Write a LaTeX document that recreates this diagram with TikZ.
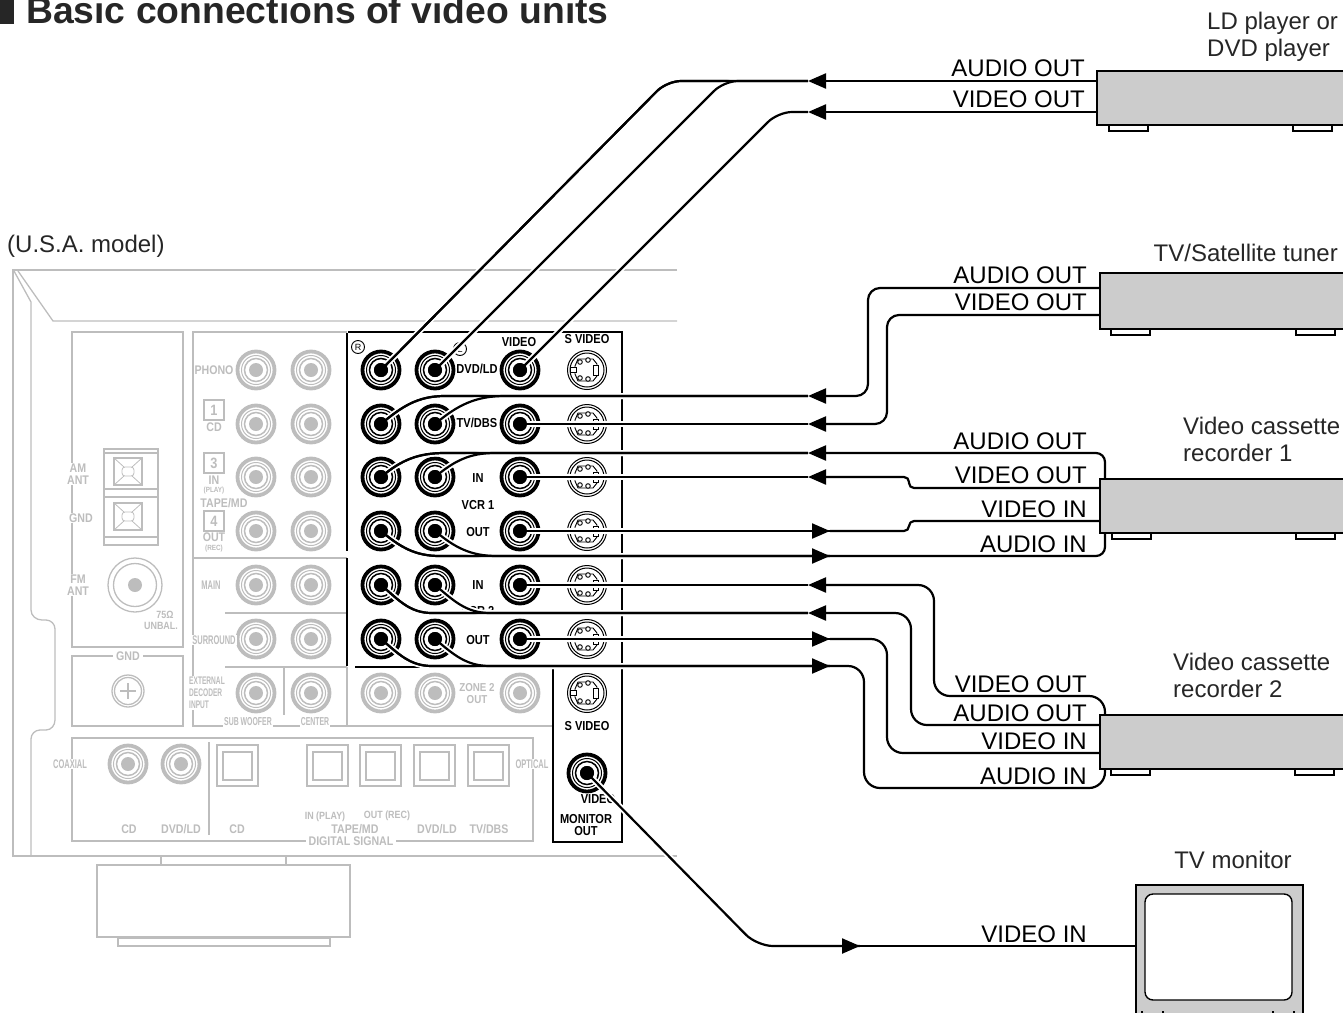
\documentclass[tikz,border=0pt]{standalone}
\usepackage{fontspec}
\setmainfont{Liberation Sans}
\newfontfamily\panelfont[FakeStretch=0.85]{Liberation Sans}
\newfontfamily\narrowfont[FakeStretch=0.6]{Liberation Sans}
\usetikzlibrary{arrows.meta}
\definecolor{panelgray}{HTML}{BDBDBD}
\definecolor{devgray}{HTML}{CCCCCC}
\tikzset{
  wire/.style={line width=2.2pt,line join=round},
  cable/.style={wire,preaction={draw=white,line width=6pt,-}},
  tipped/.style={cable,-{Triangle[length=18pt,width=15pt]}},
  device/.style={draw,fill=devgray,line width=1.6pt,anchor=north west,inner sep=0pt,minimum width=270pt},
  foot/.style={draw,fill=white,line width=1.4pt},
  panel/.style={draw=panelgray,line width=1.3pt},
  heavy/.style={draw=black,line width=2.5pt},
  greytext/.style={text=panelgray,font=\panelfont\bfseries\fontsize{12.5}{12.5}\selectfont,inner sep=1pt,fill=white},
  thintext/.style={text=panelgray,font=\narrowfont\bfseries\fontsize{12.5}{12.5}\selectfont,inner sep=1pt,fill=white},
  blacktext/.style={text=black,font=\panelfont\bfseries\fontsize{13}{11.5}\selectfont,inner sep=0pt,align=center},
  portlabel/.style={anchor=base east,inner sep=0pt,font=\fontsize{24}{27}\selectfont},
  unitlabel/.style={inner sep=0pt,align=left,text=black!85,font=\fontsize{24}{27}\selectfont},
  numbox/.style={draw=panelgray,line width=1.2pt,text=panelgray,font=\panelfont\bfseries\fontsize{15}{15}\selectfont,minimum size=20pt,inner sep=0pt},
  jack/.pic={
    \draw[#1,line width=3.8pt] (0,0) circle (18.5pt);
    \draw[#1,line width=1pt] (0,0) circle (14.5pt);
    \draw[#1,line width=1.5pt] (0,0) circle (11.5pt);
    \fill[#1] (0,0) circle (7pt);
  },
  svideo/.pic={
    \draw[#1,line width=1pt] (0,0) circle (19.5pt);
    \draw[#1,line width=1pt] (0,0) circle (17pt);
    \draw[#1,line width=.9pt] (-9,-11) -- (6,-11) -- (10,-6) -- (10,6) -- (6,11) -- (-9,11) -- (-12,4) -- (-12,-4) -- cycle;
    \foreach \px/\py in {-7/-8,1/-10,-7/8,1/9}
      \draw[#1,fill=white,line width=.9pt] (\px,\py) circle (2.3pt);
    \draw[#1,fill=white,line width=.9pt] (-17,-2.5) rectangle (-11,2.5);
    \draw[#1,fill=white,line width=.9pt] (6,-5) rectangle (11,5);
  }
}
\begin{document}
\begin{tikzpicture}[x=1pt,y=-1pt]
\useasboundingbox (0,0) rectangle (1343,1012);
\draw[panel,line width=2.5pt] (677,270) -- (13,270) -- (13,856) -- (677,856);
\draw[panel] (14,271) -- (31,302) -- (31,610) to[out=-90,in=180] (42,620) -- (46,620) to[out=0,in=90] (55,629) -- (55,720) to[out=-90,in=0] (46,730) -- (40,730) to[out=180,in=90] (31,739) -- (31,856);
\draw[panel] (18,271) -- (53,321) -- (677,321);
\draw[panel] (72,332) rectangle (183,647);
\draw[panel] (72,656) rectangle (183,726);
\draw[panel] (347,332) -- (193,332) -- (193,726) -- (553,726);
\draw[panel] (193,558) -- (347,558);
\draw[panel] (225,613) -- (347,613);
\draw[panel] (225,667) -- (347,667);
\draw[panel] (284,667) -- (284,715);
\draw[panel] (347,667) -- (347,726);
\draw[panel] (72,738) rectangle (533,841);
\draw[panel] (209,742) -- (209,835);
\draw[panel,line width=1.8pt] (161,857) -- (161,865);
\draw[panel,line width=1.8pt] (286,857) -- (286,865);
\draw[panel,line width=2pt] (97,865) rectangle (350,937);
\draw[panel,line width=1.8pt] (118,938) rectangle (330,946);

\draw[panel,line width=1.6pt] (104,449) rectangle (158,545);
\foreach \ly in {453,489,497,537}
  \draw[panel] (104,\ly) -- (158,\ly);
\foreach \sy in {458,503} {
  \draw[panel] (114,\sy) rectangle (142,\sy+27);
  \draw[panel,line width=.8pt] (114,\sy) -- (124,\sy+9) (142,\sy) -- (132,\sy+9) (114,\sy+27) -- (124,\sy+18) (142,\sy+27) -- (132,\sy+18);
  \draw[panel,line width=.8pt,rounded corners=3pt] (122,\sy+9) rectangle (134,\sy+18);
}
\draw[panel] (135,585) circle (27pt);
\draw[panel] (135,585) circle (21.5pt);
\fill[panelgray] (135,585) circle (7pt);
\draw[panel] (128,691) circle (16pt);
\draw[panel] (128,691) circle (13.5pt);
\draw[panel] (120,691) -- (136,691) (128,683) -- (128,699);

\foreach \jy in {370,424,477,531,585,639,693} {
  \pic at (256,\jy) {jack=panelgray};
  \pic at (311,\jy) {jack=panelgray};
}
\foreach \jx in {381,435,520}
  \pic at (\jx,693) {jack=panelgray};
\foreach \jx in {128,181}
  \pic at (\jx,764) {jack=panelgray};
\foreach \sx in {217,307,360,414,468} {
  \draw[panel] (\sx,745) rectangle (\sx+41,786);
  \draw[panel] (\sx+6,752) rectangle (\sx+35,780);
}

\node[greytext] at (214,370) {PHONO};
\node[numbox] (boxa) at (214,410) {1};
\node[greytext] at (214,427) {CD};
\node[numbox] (boxc) at (214,463) {3};
\node[greytext] at (214,480) {IN};
\node[greytext,font=\panelfont\bfseries\fontsize{7.5}{7.5}\selectfont] at (214,491) {(PLAY)};
\node[greytext,fill=none] at (224,503) {TAPE/MD};
\node[numbox] (boxd) at (214,521) {4};
\node[greytext] at (214,537) {OUT};
\node[greytext,font=\panelfont\bfseries\fontsize{7.5}{7.5}\selectfont] at (214,549) {(REC)};
\node[greytext,align=center,font=\panelfont\bfseries\fontsize{12.5}{11.5}\selectfont] at (78,474) {AM\\ANT};
\node[greytext] at (81,518) {GND};
\node[greytext,align=center,font=\panelfont\bfseries\fontsize{12.5}{11.5}\selectfont] at (78,585) {FM\\ANT};
\node[greytext,font=\panelfont\bfseries\fontsize{10.5}{10.5}\selectfont] at (165,615) {75Ω};
\node[greytext,font=\panelfont\bfseries\fontsize{10.5}{10.5}\selectfont] at (161,626) {UNBAL.};
\node[greytext] at (128,656) {\,GND\,};
\node[thintext] at (211,585) {MAIN};
\node[thintext] at (214,640) {SURROUND};
\node[thintext,align=left,font=\narrowfont\bfseries\fontsize{11}{12}\selectfont] at (207,693) {EXTERNAL\\DECODER\\INPUT};
\node[thintext,font=\narrowfont\bfseries\fontsize{11.5}{11.5}\selectfont] at (248,722) {SUB WOOFER};
\node[thintext,font=\narrowfont\bfseries\fontsize{11.5}{11.5}\selectfont] at (315,722) {CENTER};
\node[greytext,align=center,font=\panelfont\bfseries\fontsize{11.5}{12}\selectfont] at (477,694) {ZONE 2\\OUT};
\node[thintext] at (70,764) {COAXIAL};
\node[thintext] at (532,764) {OPTICAL};
\node[greytext] at (129,829) {CD};
\node[greytext] at (181,829) {DVD/LD};
\node[greytext] at (237,829) {CD};
\node[greytext,font=\panelfont\bfseries\fontsize{10.5}{10.5}\selectfont] at (325,817) {IN (PLAY)};
\node[greytext,font=\panelfont\bfseries\fontsize{10.5}{10.5}\selectfont] at (387,816) {OUT (REC)};
\node[greytext] at (355,829) {TAPE/MD};
\node[greytext] at (437,829) {DVD/LD};
\node[greytext] at (489,829) {TV/DBS};
\node[greytext] at (351,841) {\,DIGITAL SIGNAL\,};

\draw[heavy] (348,332) -- (622,332) -- (622,842) -- (553,842) -- (553,668);
\draw[heavy] (347,333) -- (347,551);
\draw[heavy] (347,558) -- (347,666);
\draw[heavy] (355,667) -- (622,667);

\foreach \jy [count=\jrow] in {370,424,477,531,585,639} {
  \coordinate (R\jrow) at (381,\jy);
  \coordinate (L\jrow) at (435,\jy);
  \coordinate (V\jrow) at (520,\jy);
  \pic at (R\jrow) {jack=black};
  \pic at (L\jrow) {jack=black};
  \pic at (V\jrow) {jack=black};
  \pic at (587,\jy) {svideo=black};
}
\pic at (587,693) {svideo=black};
\coordinate (Mon) at (587,773);
\pic at (Mon) {jack=black};

\draw[black,line width=.9pt] (358,347) circle (6.5pt);
\node[font=\fontsize{9}{9}\selectfont,inner sep=0pt] at (358,347) {R};
\draw[black,line width=.9pt] (460,349) circle (6.5pt);
\node[font=\fontsize{9}{9}\selectfont,inner sep=0pt] at (460,349) {L};
\node[blacktext] at (519,342) {VIDEO};
\node[blacktext] at (587,339) {S VIDEO};
\node[blacktext] at (477,369) {DVD/LD};
\node[blacktext] at (477,423) {TV/DBS};
\node[blacktext] at (478,478) {IN};
\node[blacktext] at (478,505) {VCR 1};
\node[blacktext] at (478,532) {OUT};
\node[blacktext] at (478,585) {IN};
\node[blacktext] at (478,611) {VCR 2};
\node[blacktext] at (478,640) {OUT};
\node[blacktext] at (587,726) {S VIDEO};
\node[blacktext] at (598,799) {VIDEO};
\node[blacktext] at (586,825) {MONITOR\\OUT};

\coordinate (ldA) at (1096,81);
\coordinate (ldV) at (1096,112);
\coordinate (tvA) at (1099,288);
\coordinate (tvV) at (1099,315);
\coordinate (ra) at (1105,478);
\coordinate (rb) at (1099,488);
\coordinate (rc) at (1099,521);
\coordinate (rd) at (1105,532);
\coordinate (sa) at (1105,714);
\coordinate (sb) at (1099,725);
\coordinate (sc) at (1099,753);
\coordinate (sd) at (1105,768);
\coordinate (tvIn) at (1135,946);
\coordinate (t1) at (808,81);
\coordinate (t1v) at (808,112);
\coordinate (t2) at (808,396);
\coordinate (t2v) at (808,424);
\coordinate (t3) at (808,453);
\coordinate (t3v) at (808,477);
\coordinate (t4) at (830,556);
\coordinate (t4v) at (830,531);
\coordinate (t5) at (808,613);
\coordinate (t5v) at (808,585);
\coordinate (t6) at (830,666);
\coordinate (t6v) at (830,639);
\coordinate (t7) at (860,946);

\draw[cable,rounded corners=14pt] (R1) -- (667,81) -- (t1);
\draw[cable,rounded corners=14pt] (L1) -- (724,81) -- (t1);
\draw[wire,rounded corners=14pt] (R1) -- (667,81) -- (t1);
\draw[cable,rounded corners=14pt] (V1) -- (778,112) -- (t1v);
\draw[tipped] (ldA) -- (t1);
\draw[tipped] (ldV) -- (t1v);

\foreach \jrow/\wy/\xa/\xb/\jout in {2/396/445/505/40,3/453/445/495/40,4/556/440/497/-40,5/613/432/490/-40,6/666/432/490/-40} {
  \draw[cable] (R\jrow) to[out=\jout,in=180] (\xa,\wy) -- (t\jrow);
  \draw[cable] (L\jrow) to[out=\jout,in=180] (\xb,\wy) -- (t\jrow);
  \draw[wire] (R\jrow) to[out=\jout,in=180] (\xa,\wy) -- (t\jrow);
}
\foreach \jrow in {2,3,4,5,6} {
  \draw[cable] (V\jrow) -- (t\jrow v);
}

\draw[tipped,rounded corners=12pt] (tvA) -- (868,288) -- (868,396) -- (t2);
\draw[tipped,rounded corners=12pt] (tvV) -- (887,315) -- (887,424) -- (t2v);
\draw[tipped,rounded corners=9pt] (ra) -- (1105,453) -- (t3);
\draw[tipped,rounded corners=5pt] (rb) -- (909,488) -- (909,477) -- (t3v);
\draw[cable,rounded corners=5pt] (t4v) -- (909,531) -- (909,521) -- (rc);
\draw[cable,rounded corners=9pt] (t4) -- (1105,556) -- (rd);
\draw[tipped,rounded corners=16pt] (sa) -- (1105,696) -- (934,696) -- (934,585) -- (t5v);
\draw[tipped,rounded corners=16pt] (sb) -- (911,725) -- (911,613) -- (t5);
\draw[cable,rounded corners=16pt] (t6v) -- (887,639) -- (887,753) -- (sc);
\draw[cable,rounded corners=16pt] (t6) -- (864,666) -- (864,788) -- (1105,788) -- (sd);
\draw[wire,-{Triangle[length=18pt,width=15pt]}] (812,531) -- (t4v);
\draw[wire,-{Triangle[length=18pt,width=15pt]}] (812,556) -- (t4);
\draw[wire,-{Triangle[length=18pt,width=15pt]}] (812,639) -- (t6v);
\draw[wire,-{Triangle[length=18pt,width=15pt]}] (812,666) -- (t6);
\draw[cable,rounded corners=16pt] (Mon) -- (757,946) -- (t7);
\draw[wire,-{Triangle[length=18pt,width=15pt]}] (842,946) -- (t7);
\draw[cable] (t7) -- (tvIn);

\foreach \jrow in {1,2,3,4,5,6} {
  \fill (R\jrow) circle (7pt);
  \fill (L\jrow) circle (7pt);
  \fill (V\jrow) circle (7pt);
}
\fill (Mon) circle (7pt);

\foreach \fx/\fy in {1109/124,1293/124,1111/328,1296/328,1112/532,1296/532,1111/768,1295/768}
  \draw[foot] (\fx,\fy) rectangle (\fx+39,\fy+7);
\node[device,minimum height=54pt] (ld) at (1096,70) {};
\node[device,minimum height=56pt] (tvtuner) at (1099,272) {};
\node[device,minimum height=54pt] (vcra) at (1099,478) {};
\node[device,minimum height=54pt] (vcrb) at (1099,714) {};
\node[device,line width=2pt,minimum width=167pt,minimum height=130pt] (monitor) at (1135,884) {};
\draw[fill=white,line width=1.4pt,rounded corners=8pt] (1145,894) rectangle (1292,1000);
\draw[line width=1.2pt] (1142,1011) -- (1142,1014) (1163,1011) -- (1163,1014) (1273,1011) -- (1273,1014) (1294,1011) -- (1294,1014);

\fill[black!85] (0,0) rectangle (13.5,24);
\node[anchor=base west,inner sep=0pt,text=black!85,font=\bfseries\fontsize{37.3}{37.3}\selectfont] (title) at (26,23) {Basic connections of video units};
\node[unitlabel,anchor=base west] (usa) at (7,252) {(U.S.A. model)};
\node[unitlabel,anchor=west] (ldname) at (1207,37) {LD player or\\DVD player};
\node[unitlabel,anchor=base east] (tvname) at (1338,261) {TV/Satellite tuner};
\node[unitlabel,anchor=west] (vcraname) at (1183,439) {Video cassette\\recorder 1};
\node[unitlabel,anchor=west] (vcrbname) at (1173,675) {Video cassette\\recorder 2};
\node[unitlabel,anchor=base] (monname) at (1233,868) {TV monitor};

\node[portlabel] at (1085,76) {AUDIO OUT};
\node[portlabel] at (1085,107) {VIDEO OUT};
\node[portlabel] at (1087,283) {AUDIO OUT};
\node[portlabel] at (1087,310) {VIDEO OUT};
\node[portlabel] at (1087,449) {AUDIO OUT};
\node[portlabel] at (1087,483) {VIDEO OUT};
\node[portlabel] at (1087,517) {VIDEO IN};
\node[portlabel] at (1087,552) {AUDIO IN};
\node[portlabel] at (1087,692) {VIDEO OUT};
\node[portlabel] at (1087,721) {AUDIO OUT};
\node[portlabel] at (1087,749) {VIDEO IN};
\node[portlabel] at (1087,784) {AUDIO IN};
\node[portlabel] at (1087,942) {VIDEO IN};
\end{tikzpicture}
\end{document}
